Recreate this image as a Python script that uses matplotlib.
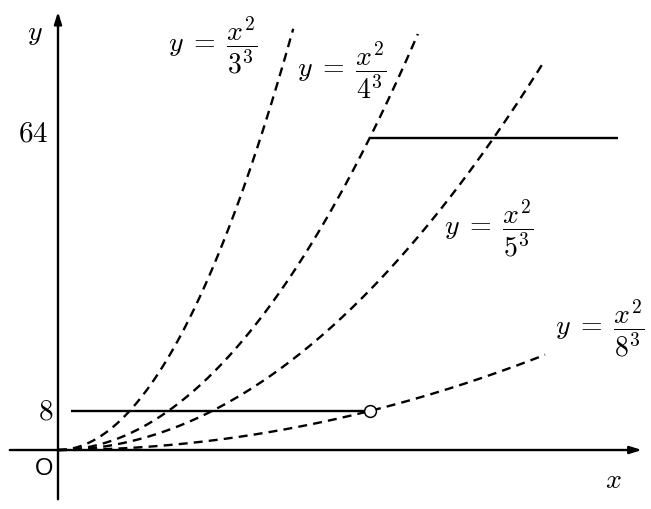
import numpy as np
import matplotlib
matplotlib.use("Agg")
import matplotlib.pyplot as plt

plt.rcParams["mathtext.fontset"] = "cm"

# curves y = x^2 / k^3, drawn up to the x where the dashed line stops
k_values = [3, 4, 5, 8]
x_end = [48.3, 73.9, 100.0, 100.0]
# solid horizontal segments: (y, x_start, x_end)
levels = [8, 64]
level_x0 = [2.7, 64]
level_x1 = [64, 115]
hole = (64, 8)

fig = plt.figure(figsize=(6.51, 5.09), dpi=100)
ax = fig.add_axes([0, 0, 1, 1])
ax.set_xlim(-11.91, 121.77)
ax.set_ylim(-12.10, 92.31)
ax.axis("off")

# axes with arrows
arrow = dict(arrowstyle="-|>,head_length=0.7,head_width=0.22", lw=1.7, color="black",
             shrinkA=0, shrinkB=0)
ax.annotate("", xy=(119.9, 0), xytext=(-9.9, 0), arrowprops=arrow)
ax.annotate("", xy=(0, 89.9), xytext=(0, -10.1), arrowprops=arrow)

for k, xe in zip(k_values, x_end):
    xs = np.linspace(0, xe, 300)
    ax.plot(xs, xs**2 / k**3, color="black", lw=1.7, dashes=(3.8, 2.6))

for y, x0, x1 in zip(levels, level_x0, level_x1):
    ax.plot([x0, x1], [y, y], color="black", lw=1.7, solid_capstyle="butt")

ax.plot(*hole, "o", ms=8.5, mfc="white", mec="black", mew=1.1, zorder=5)

def px(x, y):
    return x / 651, 1 - y / 509

fs = 20
kw = dict(transform=fig.transFigure, ha="center", va="center", fontsize=fs)
ax.text(*px(35, 33), r"$y$", **kw)
ax.text(*px(613, 480), r"$x$", **kw)
ax.text(*px(33, 134), r"$64$", fontsize=21, transform=fig.transFigure,
        ha="center", va="center")
ax.text(*px(46, 412), r"$8$", fontsize=21, transform=fig.transFigure,
        ha="center", va="center")
ax.text(*px(44, 469), "O", transform=fig.transFigure, ha="center", va="center",
        fontsize=17, family="Liberation Sans")

label_pos = [(213, 45), (342, 70), (489, 228), (600, 328)]
for k, (lx, ly) in zip(k_values, label_pos):
    ax.text(*px(lx, ly), r"$y\;=\;\dfrac{x^2}{%d^3}$" % k, **kw)

fig.savefig("out.png", dpi=100)
